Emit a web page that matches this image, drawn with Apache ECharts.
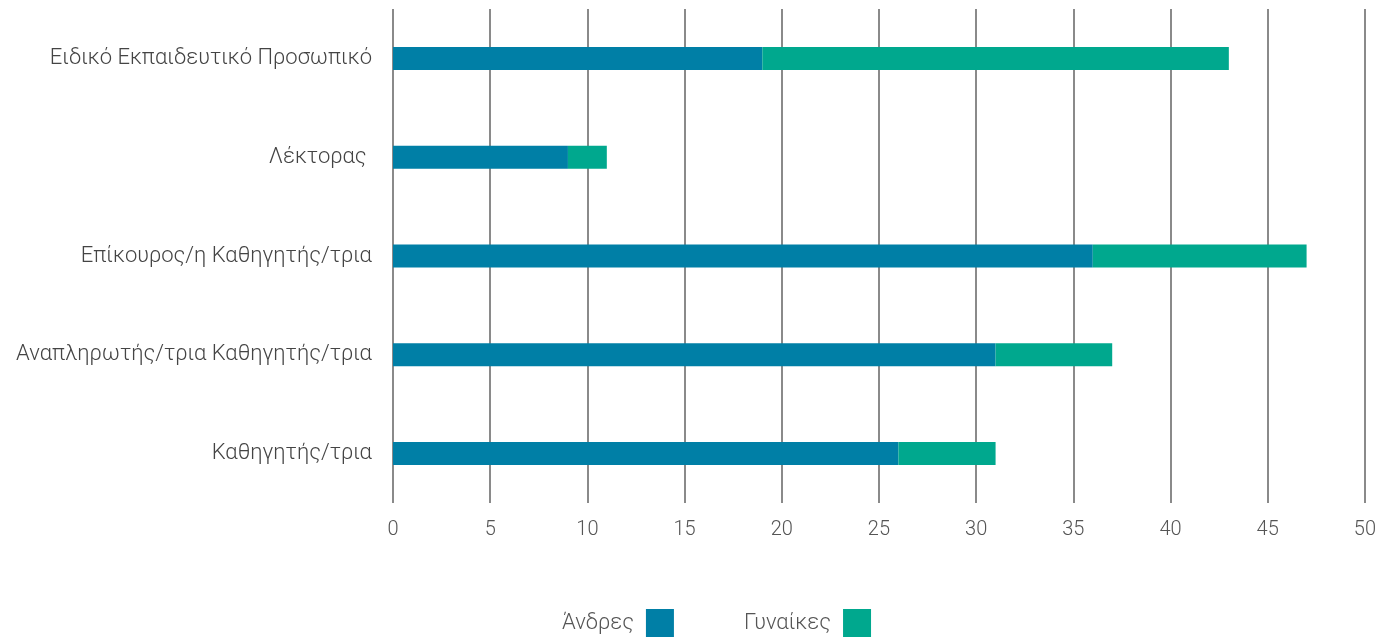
<!DOCTYPE html>
<html><head><meta charset="utf-8">
<script src="https://cdn.jsdelivr.net/npm/echarts@6/dist/echarts.min.js"></script>
<style>html,body{margin:0;padding:0;background:#fff}#c{width:1379px;height:637px}</style>
</head><body><div id="c"></div>
<script>
const categories = ['Καθηγητής/τρια','Αναπληρωτής/τρια Καθηγητής/τρια','Επίκουρος/η Καθηγητής/τρια','Λέκτορας ','Ειδικό Εκπαιδευτικό Προσωπικό'];
const andres = [26, 31, 36, 9, 19];
const gynaikes = [5, 6, 11, 2, 24];
const xTicks = [0, 50, 5];
const FONT = 'Roboto';
const chart = echarts.init(document.getElementById('c'));
chart.setOption({
  animation: false,
  textStyle: {fontFamily: FONT},
  grid: {left: 393, right: 8, top: 9, bottom: 134, containLabel: false},
  xAxis: {type: 'value', min: xTicks[0], max: xTicks[1], interval: xTicks[2],
    axisLine: {show: false}, axisTick: {show: false},
    splitLine: {show: true, lineStyle: {color: '#8a8a8a', width: 2}},
    axisLabel: {color: '#555', fontSize: 20, fontWeight: 300, fontFamily: FONT, margin: 17}},
  yAxis: {type: 'category', data: categories,
    axisLine: {show: false}, axisTick: {show: false},
    axisLabel: {color: '#444', fontSize: 22, fontWeight: 300, fontFamily: FONT, margin: 21}},
  legend: {bottom: 0, left: 562, align: 'right', itemWidth: 28, itemHeight: 28, itemGap: 70,
    icon: 'rect', padding: 0,
    textStyle: {color: '#555', fontSize: 22, fontWeight: 300, fontFamily: FONT, padding: [0, 7, 0, 0]},
    data: ['Άνδρες', 'Γυναίκες']},
  series: [
    {name: 'Άνδρες', type: 'bar', stack: 'a', data: andres, barWidth: 23,
      itemStyle: {color: '#007fa6'}},
    {name: 'Γυναίκες', type: 'bar', stack: 'a', data: gynaikes, barWidth: 23,
      itemStyle: {color: '#00a88e'}}
  ]
});
</script></body></html>
